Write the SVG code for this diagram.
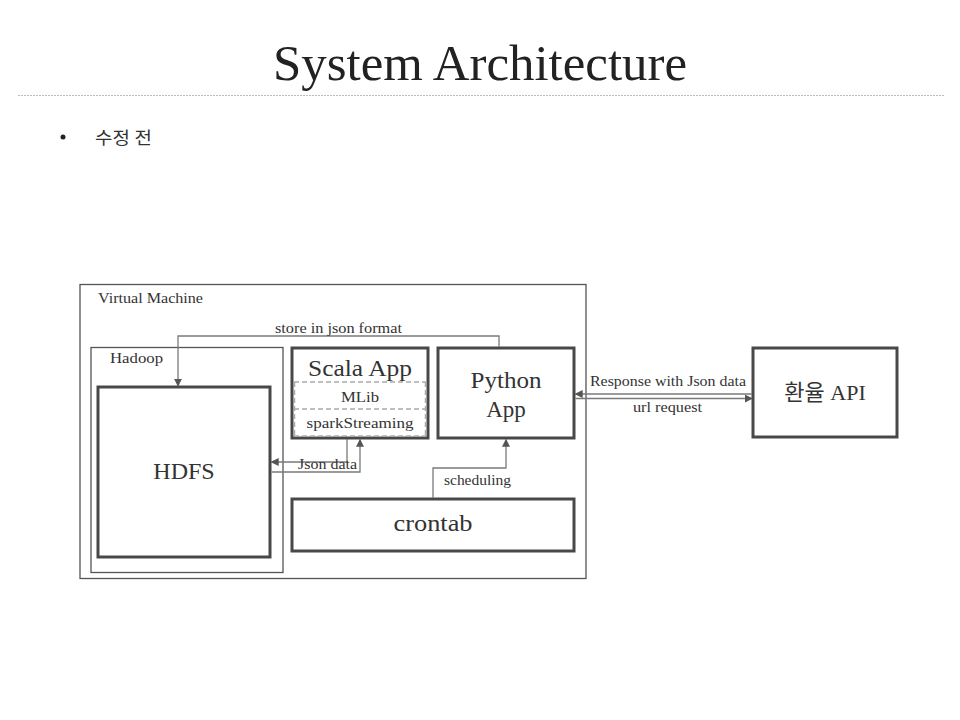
<svg xmlns="http://www.w3.org/2000/svg" width="960" height="720" viewBox="0 0 960 720">
<defs>
<style>
.t{font-family:"Liberation Serif","Noto Sans CJK KR",serif;fill:#222}
.k{font-family:"Liberation Serif","Noto Sans CJK KR",serif;fill:#333}
.thick{fill:#fff;stroke:#4a4747;stroke-width:3}
.thin{fill:none;stroke:#555;stroke-width:1.3}
.c{fill:none;stroke:#7a7a7a;stroke-width:1.3}
.dash{fill:none;stroke:#aaa;stroke-width:1.5;stroke-dasharray:5,3}
</style>
<marker id="ah" viewBox="0 0 10 10" refX="9" refY="5" markerWidth="8" markerHeight="8" markerUnits="userSpaceOnUse" orient="auto">
<path d="M0,0 L10,5 L0,10 z" fill="#555"/>
</marker>
</defs>
<rect width="960" height="720" fill="#fff"/>
<g id="title">
<text class="t" x="480" y="80" font-size="50" text-anchor="middle" textLength="414" lengthAdjust="spacingAndGlyphs">System Architecture</text>
<line x1="18" y1="95.5" x2="945" y2="95.5" stroke="#bbb" stroke-width="1" stroke-dasharray="2,1"/>
</g>
<g id="bullet">
<circle cx="63" cy="137" r="2.5" fill="#222"/>
<text class="k" x="95" y="144" font-size="17" textLength="57" lengthAdjust="spacingAndGlyphs">수정 전</text>
</g>
<g id="vm">
<rect class="thin" x="80" y="284.5" width="506" height="294"/>
<text class="k" x="98" y="303" font-size="14" textLength="105" lengthAdjust="spacingAndGlyphs">Virtual Machine</text>
</g>
<g id="hadoop">
<rect class="thin" x="91" y="347.5" width="192" height="225"/>
<text class="k" x="110" y="363" font-size="14" textLength="53" lengthAdjust="spacingAndGlyphs">Hadoop</text>
</g>
<g id="hdfs">
<rect class="thick" x="98" y="387" width="172" height="170"/>
<text class="k" x="184" y="479" font-size="24" text-anchor="middle">HDFS</text>
</g>
<g id="scala">
<rect class="thick" x="292" y="348" width="136" height="90"/>
<path class="dash" d="M294,382 H426 M294,409 H426 M294.5,382 V436 M425.5,382 V436 M294,436 H426"/>
<text class="k" x="360" y="376" font-size="24" text-anchor="middle" textLength="104" lengthAdjust="spacingAndGlyphs">Scala App</text>
<text class="k" x="360" y="402" font-size="15" text-anchor="middle" textLength="38" lengthAdjust="spacingAndGlyphs">MLib</text>
<text class="k" x="360" y="428" font-size="15" text-anchor="middle" textLength="107" lengthAdjust="spacingAndGlyphs">sparkStreaming</text>
</g>
<g id="python">
<rect class="thick" x="438" y="348" width="136" height="90"/>
<text class="k" x="506" y="388" font-size="23" text-anchor="middle" textLength="71" lengthAdjust="spacingAndGlyphs">Python</text>
<text class="k" x="506" y="417" font-size="23" text-anchor="middle">App</text>
</g>
<g id="api">
<rect class="thick" x="753" y="348" width="144" height="89"/>
<text class="k" x="825" y="400" font-size="22" text-anchor="middle">환율 API</text>
</g>
<g id="crontab">
<rect class="thick" x="292" y="499" width="282" height="52"/>
<text class="k" x="433" y="531" font-size="24" text-anchor="middle" textLength="79" lengthAdjust="spacingAndGlyphs">crontab</text>
</g>
<g id="connectors">
<path class="c" d="M499,347 V336 H178 V386" marker-end="url(#ah)"/>
<path class="c" d="M347,439 V462 H271.5" marker-end="url(#ah)"/>
<path class="c" d="M271.5,472 H360 V439.5" marker-end="url(#ah)"/>
<path class="c" d="M433,498 V468 H506 V439.5" marker-end="url(#ah)"/>
<path class="c" d="M752,394 H575.5" marker-end="url(#ah)"/>
<path class="c" d="M575.5,398.5 H752" marker-end="url(#ah)"/>
<text class="k" x="338.5" y="333" font-size="14" text-anchor="middle" textLength="127" lengthAdjust="spacingAndGlyphs">store in json format</text>
<text class="k" x="327.5" y="469" font-size="14" text-anchor="middle" textLength="59" lengthAdjust="spacingAndGlyphs">Json data</text>
<text class="k" x="477.5" y="485" font-size="14" text-anchor="middle" textLength="67" lengthAdjust="spacingAndGlyphs">scheduling</text>
<text class="k" x="668" y="386" font-size="14" text-anchor="middle" textLength="156" lengthAdjust="spacingAndGlyphs">Response with Json data</text>
<text class="k" x="667.5" y="412" font-size="14" text-anchor="middle" textLength="69" lengthAdjust="spacingAndGlyphs">url request</text>
</g>
</svg>
